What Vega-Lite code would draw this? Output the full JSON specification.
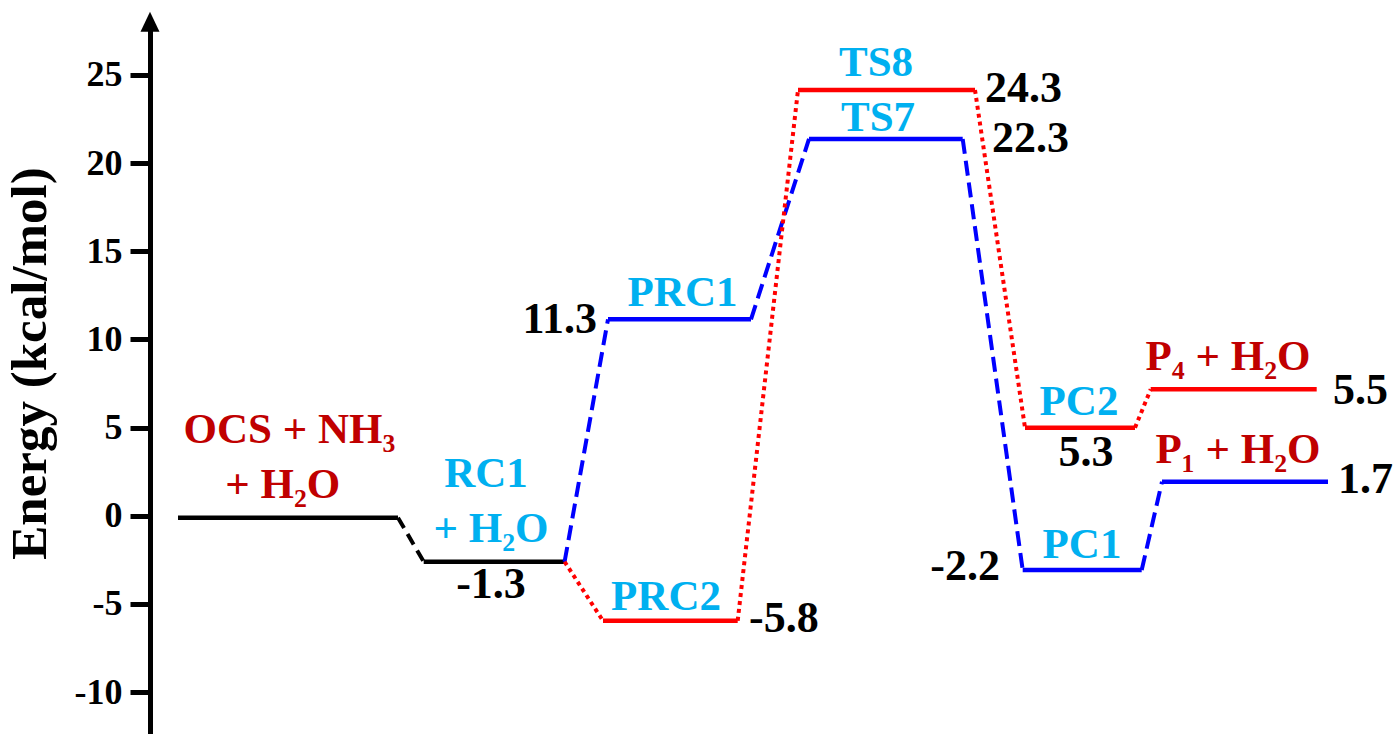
{
  "$schema": "https://vega.github.io/schema/vega-lite/v6.json",
  "autosize": "none",
  "padding": {"left": 150, "top": 30, "right": 0, "bottom": 0},
  "width": 1243,
  "height": 704,
  "background": "white",
  "config": {
    "view": {"stroke": null},
    "text": {"font": "Liberation Serif", "fontWeight": "bold"}
  },
  "datasets": {
    "levels": [
      {"state": "OCS + NH3 + H2O", "path": "main", "x1": 28, "x2": 248, "e": -0.11},
      {"state": "RC1 + H2O", "path": "main", "x1": 273.7, "x2": 414.6, "e": -2.61},
      {"state": "PRC1", "path": "path1", "x1": 458, "x2": 601, "e": 11.14},
      {"state": "PRC2", "path": "path2", "x1": 453, "x2": 587.7, "e": -5.96},
      {"state": "TS7", "path": "path1", "x1": 659, "x2": 812.7, "e": 21.37},
      {"state": "TS8", "path": "path2", "x1": 648, "x2": 825, "e": 24.15},
      {"state": "PC1", "path": "path1", "x1": 872.7, "x2": 991.7, "e": -3.08},
      {"state": "PC2", "path": "path2", "x1": 875, "x2": 985, "e": 4.99},
      {"state": "P1 + H2O", "path": "path1", "x1": 1012, "x2": 1178, "e": 1.93},
      {"state": "P4 + H2O", "path": "path2", "x1": 1000.7, "x2": 1166.7, "e": 7.17}
    ],
    "links": [
      {"path": "main", "x1": 248, "e1": -0.11, "x2": 273.7, "e2": -2.61},
      {"path": "path1", "x1": 414.6, "e1": -2.61, "x2": 458, "e2": 11.14},
      {"path": "path2", "x1": 414.6, "e1": -2.61, "x2": 453, "e2": -5.96},
      {"path": "path1", "x1": 601, "e1": 11.14, "x2": 659, "e2": 21.37},
      {"path": "path2", "x1": 587.7, "e1": -5.96, "x2": 648, "e2": 24.15},
      {"path": "path1", "x1": 812.7, "e1": 21.37, "x2": 872.7, "e2": -3.08},
      {"path": "path2", "x1": 825, "e1": 24.15, "x2": 875, "e2": 4.99},
      {"path": "path1", "x1": 991.7, "e1": -3.08, "x2": 1012, "e2": 1.93},
      {"path": "path2", "x1": 985, "e1": 4.99, "x2": 1000.7, "e2": 7.17}
    ],
    "names": [
      {"name": "OCS + NH₃", "kind": "reactant", "x": 139.5, "e": 4.11},
      {"name": "+ H₂O", "kind": "reactant", "x": 132.7, "e": 1.0},
      {"name": "RC1", "kind": "species", "x": 336, "e": 1.64},
      {"name": "+ H₂O", "kind": "species", "x": 341, "e": -1.47},
      {"name": "PRC1", "kind": "species", "x": 532.5, "e": 11.89},
      {"name": "PRC2", "kind": "species", "x": 516, "e": -5.35},
      {"name": "TS8", "kind": "species", "x": 726, "e": 24.94},
      {"name": "TS7", "kind": "species", "x": 728, "e": 21.84},
      {"name": "PC2", "kind": "species", "x": 929, "e": 5.71},
      {"name": "PC1", "kind": "species", "x": 932, "e": -2.42},
      {"name": "P₄ + H₂O", "kind": "product", "x": 1078, "e": 8.26},
      {"name": "P₁ + H₂O", "kind": "product", "x": 1088, "e": 2.97}
    ],
    "energiesBelow": [
      {"label": "-1.3", "x": 341, "e": -4.67},
      {"label": "5.3", "x": 936, "e": 2.82}
    ],
    "energiesRight": [
      {"label": "24.3", "x": 835, "e": 23.48},
      {"label": "22.3", "x": 842, "e": 20.65},
      {"label": "-5.8", "x": 599, "e": -6.58},
      {"label": "5.5", "x": 1183, "e": 6.34},
      {"label": "1.7", "x": 1188, "e": 1.27}
    ],
    "energiesLeft": [
      {"label": "11.3", "x": 447, "e": 10.38},
      {"label": "-2.2", "x": 850, "e": -3.65}
    ],
    "axisTip": [
      {"x": 0, "e": 28.02}
    ]
  },
  "layer": [
    {
      "data": {"name": "levels"},
      "mark": {"type": "rule", "strokeWidth": 4.5, "strokeCap": "butt"},
      "encoding": {
        "x": {"field": "x1", "type": "quantitative", "scale": {"domain": [0, 1243], "nice": false, "zero": false}, "axis": null},
        "x2": {"field": "x2"},
        "y": {
          "field": "e", "type": "quantitative",
          "scale": {"domain": [-12.38, 27.55], "nice": false, "zero": false},
          "title": "Energy (kcal/mol)",
          "axis": {
            "values": [-10, -5, 0, 5, 10, 15, 20, 25],
            "labelExpr": "datum.value < 0 ? '-' + abs(datum.value) : '' + datum.value",
            "grid": false,
            "domainColor": "black", "domainWidth": 5, "domainCap": "butt",
            "tickColor": "black", "tickWidth": 5, "tickSize": 20,
            "labelFont": "Liberation Serif", "labelFontSize": 36, "labelFontWeight": "bold",
            "labelColor": "black", "labelPadding": 8, "labelFlush": false, "labelOverlap": false,
            "titleFont": "Liberation Serif", "titleFontSize": 51, "titleFontWeight": "bold",
            "titleColor": "black", "titleX": -105, "titleY": 333, "titleAngle": 270,
            "titleBaseline": "alphabetic", "titleAlign": "center"
          }
        },
        "color": {"field": "path", "type": "nominal", "scale": {"domain": ["main", "path1", "path2"], "range": ["#000000", "#0000FF", "#FF0000"]}, "legend": null}
      }
    },
    {
      "data": {"name": "links"},
      "mark": {"type": "rule", "strokeWidth": 4, "strokeCap": "butt"},
      "encoding": {
        "x": {"field": "x1", "type": "quantitative", "axis": null},
        "x2": {"field": "x2"},
        "y": {"field": "e1", "type": "quantitative", "title": "Energy (kcal/mol)"},
        "y2": {"field": "e2"},
        "color": {"field": "path", "type": "nominal", "scale": {"domain": ["main", "path1", "path2"], "range": ["#000000", "#0000FF", "#FF0000"]}, "legend": null},
        "strokeDash": {"field": "path", "type": "nominal", "scale": {"domain": ["main", "path1", "path2"], "range": [[12, 7], [15, 7], [4, 4]]}, "legend": null}
      }
    },
    {
      "data": {"name": "names"},
      "mark": {"type": "text", "font": "Liberation Serif", "fontSize": 43, "align": "center", "baseline": "alphabetic"},
      "encoding": {
        "x": {"field": "x", "type": "quantitative", "axis": null},
        "y": {"field": "e", "type": "quantitative", "title": "Energy (kcal/mol)"},
        "text": {"field": "name"},
        "color": {"field": "kind", "type": "nominal", "scale": {"domain": ["species", "reactant", "product"], "range": ["#00B0F0", "#C00000", "#C00000"]}, "legend": null}
      }
    },
    {
      "data": {"name": "energiesBelow"},
      "mark": {"type": "text", "font": "Liberation Serif", "fontSize": 44, "align": "center", "baseline": "alphabetic", "color": "black"},
      "encoding": {
        "x": {"field": "x", "type": "quantitative", "axis": null},
        "y": {"field": "e", "type": "quantitative", "title": "Energy (kcal/mol)"},
        "text": {"field": "label"}
      }
    },
    {
      "data": {"name": "energiesRight"},
      "mark": {"type": "text", "font": "Liberation Serif", "fontSize": 44, "align": "left", "baseline": "alphabetic", "color": "black"},
      "encoding": {
        "x": {"field": "x", "type": "quantitative", "axis": null},
        "y": {"field": "e", "type": "quantitative", "title": "Energy (kcal/mol)"},
        "text": {"field": "label"}
      }
    },
    {
      "data": {"name": "energiesLeft"},
      "mark": {"type": "text", "font": "Liberation Serif", "fontSize": 44, "align": "right", "baseline": "alphabetic", "color": "black"},
      "encoding": {
        "x": {"field": "x", "type": "quantitative", "axis": null},
        "y": {"field": "e", "type": "quantitative", "title": "Energy (kcal/mol)"},
        "text": {"field": "label"}
      }
    },
    {
      "data": {"name": "axisTip"},
      "mark": {"type": "point", "filled": true, "color": "black", "opacity": 1, "size": 400, "shape": "M0,-1L0.95,1L-0.95,1Z", "strokeWidth": 0},
      "encoding": {
        "x": {"field": "x", "type": "quantitative", "axis": null},
        "y": {"field": "e", "type": "quantitative", "title": "Energy (kcal/mol)"}
      }
    }
  ],
  "resolve": {"scale": {"color": "independent"}}
}
